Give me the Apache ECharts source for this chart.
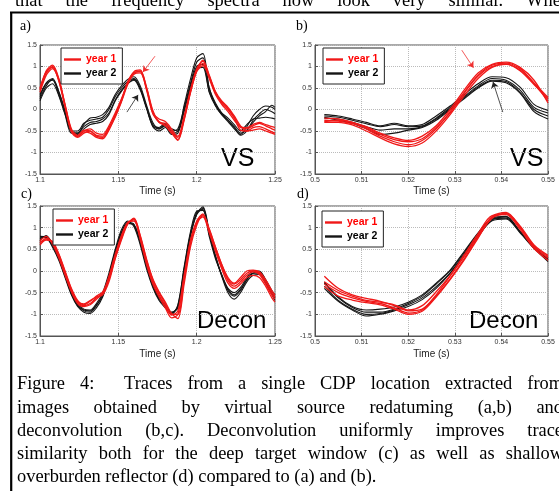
<!DOCTYPE html>
<html>
<head>
<meta charset="utf-8">
<title>Figure 4</title>
<script src="https://cdn.jsdelivr.net/npm/echarts@6/dist/echarts.min.js"></script>
<style>
  html, body { margin: 0; padding: 0; background: #fff; }
  #chart { width: 559px; height: 491px; }
</style>
</head>
<body>
<div id="chart"></div>
<script>
// sample times (s)
const timeDeep = [1.100, 1.104, 1.108, 1.112, 1.116, 1.120, 1.124, 1.128, 1.132, 1.136,
  1.140, 1.144, 1.148, 1.152, 1.156, 1.160, 1.164, 1.168, 1.172, 1.176,
  1.180, 1.184, 1.188, 1.192, 1.196, 1.200, 1.204, 1.208, 1.212, 1.216,
  1.220, 1.224, 1.228, 1.232, 1.236, 1.240, 1.244, 1.248, 1.250];
const timeShallow = [0.502, 0.505, 0.508, 0.511, 0.514, 0.517, 0.520, 0.523, 0.526,
  0.529, 0.532, 0.535, 0.538, 0.541, 0.544, 0.547, 0.550];

// a) VS, deep window
const vsDeepYear1 = [
  [0.48, 0.85, 1.00, 0.70, 0.12, -0.45, -0.60, -0.48, -0.50, -0.60, -0.62, -0.42, -0.12, 0.22, 0.65, 0.86, 0.88, 0.45, -0.10, -0.28, -0.36, -0.55, -0.62, -0.15, 0.45, 0.92, 1.07, 0.72, 0.35, 0.12, -0.05, -0.25, -0.42, -0.45, -0.38, -0.32, -0.38, -0.45, -0.48],
  [0.45, 0.90, 1.03, 0.72, 0.10, -0.48, -0.63, -0.52, -0.55, -0.65, -0.68, -0.48, -0.15, 0.20, 0.62, 0.88, 0.92, 0.50, -0.05, -0.30, -0.32, -0.50, -0.70, -0.20, 0.42, 0.95, 1.12, 0.78, 0.40, 0.15, 0.00, -0.20, -0.48, -0.50, -0.42, -0.40, -0.45, -0.52, -0.55],
  [0.40, 0.80, 0.95, 0.68, 0.08, -0.50, -0.62, -0.50, -0.45, -0.55, -0.58, -0.38, -0.08, 0.25, 0.60, 0.82, 0.85, 0.48, -0.08, -0.22, -0.28, -0.45, -0.65, -0.22, 0.40, 0.88, 1.02, 0.75, 0.38, 0.18, 0.02, -0.18, -0.40, -0.42, -0.35, -0.30, -0.35, -0.40, -0.42],
  [0.50, 0.88, 0.98, 0.66, 0.05, -0.52, -0.65, -0.55, -0.50, -0.62, -0.65, -0.45, -0.18, 0.18, 0.58, 0.84, 0.90, 0.52, -0.02, -0.30, -0.38, -0.55, -0.72, -0.25, 0.38, 0.90, 1.15, 0.80, 0.42, 0.20, 0.05, -0.15, -0.38, -0.50, -0.48, -0.45, -0.50, -0.55, -0.58]
];
const vsDeepYear2 = [
  [0.25, 0.55, 0.70, 0.40, -0.05, -0.50, -0.50, -0.32, -0.25, -0.22, -0.18, 0.00, 0.30, 0.50, 0.65, 0.72, 0.50, 0.05, -0.35, -0.42, -0.32, -0.50, -0.45, 0.05, 0.60, 1.10, 1.20, 0.50, 0.10, -0.12, -0.28, -0.45, -0.58, -0.40, -0.15, 0.00, 0.08, 0.05, 0.00],
  [0.30, 0.60, 0.68, 0.35, -0.10, -0.52, -0.55, -0.40, -0.30, -0.28, -0.22, -0.08, 0.22, 0.45, 0.60, 0.68, 0.45, 0.02, -0.38, -0.45, -0.38, -0.55, -0.50, 0.00, 0.55, 1.00, 1.05, 0.42, 0.12, -0.10, -0.25, -0.42, -0.60, -0.50, -0.25, -0.10, 0.00, -0.05, -0.10],
  [0.20, 0.50, 0.60, 0.32, -0.12, -0.55, -0.55, -0.35, -0.20, -0.18, -0.12, 0.05, 0.35, 0.55, 0.70, 0.76, 0.55, 0.10, -0.30, -0.45, -0.35, -0.45, -0.50, 0.10, 0.70, 1.20, 1.30, 0.50, 0.15, -0.08, -0.20, -0.35, -0.50, -0.35, -0.22, -0.20, -0.18, -0.20, -0.22],
  [0.35, 0.62, 0.72, 0.42, -0.02, -0.48, -0.58, -0.45, -0.35, -0.32, -0.28, -0.12, 0.20, 0.42, 0.60, 0.70, 0.48, 0.05, -0.40, -0.50, -0.42, -0.58, -0.55, -0.05, 0.50, 0.95, 0.98, 0.40, 0.08, -0.12, -0.25, -0.40, -0.55, -0.48, -0.30, -0.15, -0.05, 0.10, 0.05]
];

// b) VS, shallow reflector
const vsShallowYear1 = [
  [-0.25, -0.27, -0.33, -0.42, -0.58, -0.70, -0.75, -0.68, -0.42, -0.08, 0.38, 0.78, 1.00, 1.06, 0.90, 0.58, 0.25],
  [-0.20, -0.22, -0.30, -0.45, -0.62, -0.75, -0.82, -0.72, -0.45, -0.05, 0.40, 0.80, 1.03, 1.08, 0.95, 0.62, 0.28],
  [-0.30, -0.30, -0.36, -0.50, -0.66, -0.80, -0.86, -0.78, -0.50, -0.12, 0.32, 0.72, 0.98, 1.05, 0.92, 0.60, 0.20],
  [-0.28, -0.25, -0.30, -0.40, -0.55, -0.66, -0.72, -0.62, -0.38, 0.00, 0.45, 0.85, 1.05, 1.10, 0.98, 0.68, 0.15]
];
const vsShallowYear2 = [
  [-0.15, -0.18, -0.25, -0.33, -0.40, -0.35, -0.40, -0.38, -0.20, 0.05, 0.30, 0.55, 0.72, 0.68, 0.45, 0.05, -0.08],
  [-0.20, -0.22, -0.30, -0.40, -0.48, -0.45, -0.45, -0.40, -0.22, 0.02, 0.28, 0.52, 0.68, 0.65, 0.40, 0.00, -0.15],
  [-0.18, -0.25, -0.32, -0.45, -0.58, -0.55, -0.48, -0.42, -0.25, 0.00, 0.25, 0.50, 0.66, 0.62, 0.38, -0.05, -0.22],
  [-0.12, -0.15, -0.22, -0.30, -0.38, -0.32, -0.38, -0.35, -0.15, 0.08, 0.35, 0.60, 0.76, 0.74, 0.52, 0.12, -0.02]
];

// c) Decon, deep window
const deconDeepYear1 = [
  [0.65, 0.75, 0.65, 0.35, -0.05, -0.45, -0.72, -0.80, -0.75, -0.62, -0.50, -0.15, 0.35, 0.80, 1.12, 1.15, 0.75, 0.20, -0.25, -0.55, -0.80, -1.02, -0.92, -0.10, 0.70, 1.15, 1.32, 0.92, 0.50, 0.10, -0.22, -0.35, -0.25, -0.10, -0.02, -0.08, -0.30, -0.55, -0.65],
  [0.60, 0.72, 0.68, 0.40, 0.00, -0.40, -0.68, -0.78, -0.70, -0.58, -0.48, -0.20, 0.30, 0.75, 1.10, 1.20, 0.80, 0.25, -0.20, -0.50, -0.75, -1.00, -1.00, -0.20, 0.62, 1.10, 1.28, 0.95, 0.55, 0.15, -0.18, -0.30, -0.20, -0.05, 0.00, -0.05, -0.25, -0.50, -0.60],
  [0.70, 0.80, 0.62, 0.30, -0.10, -0.48, -0.75, -0.82, -0.78, -0.65, -0.52, -0.12, 0.38, 0.82, 1.12, 1.18, 0.72, 0.15, -0.30, -0.60, -0.85, -1.08, -1.00, -0.15, 0.68, 1.12, 1.25, 0.88, 0.45, 0.05, -0.28, -0.40, -0.30, -0.15, -0.10, -0.15, -0.35, -0.62, -0.72],
  [0.65, 0.72, 0.66, 0.38, -0.02, -0.42, -0.70, -0.76, -0.68, -0.60, -0.55, -0.25, 0.28, 0.72, 1.08, 1.22, 0.82, 0.28, -0.18, -0.48, -0.72, -0.98, -1.10, -0.30, 0.55, 1.05, 1.30, 0.98, 0.55, 0.15, -0.15, -0.28, -0.15, 0.00, 0.02, -0.02, -0.20, -0.45, -0.55]
];
const deconDeepYear2 = [
  [0.75, 0.80, 0.60, 0.30, -0.10, -0.50, -0.78, -0.92, -0.95, -0.80, -0.55, -0.10, 0.45, 0.90, 1.12, 1.05, 0.65, 0.10, -0.35, -0.65, -0.82, -0.98, -0.80, 0.05, 0.85, 1.35, 1.42, 0.85, 0.35, -0.10, -0.45, -0.58, -0.45, -0.20, -0.05, -0.05, -0.25, -0.50, -0.60],
  [0.80, 0.78, 0.55, 0.25, -0.15, -0.55, -0.82, -0.95, -0.98, -0.85, -0.60, -0.15, 0.40, 0.88, 1.12, 1.08, 0.68, 0.12, -0.32, -0.62, -0.80, -0.95, -0.85, 0.00, 0.80, 1.30, 1.45, 0.88, 0.32, -0.12, -0.50, -0.65, -0.50, -0.25, -0.10, -0.08, -0.28, -0.55, -0.68],
  [0.70, 0.82, 0.62, 0.32, -0.08, -0.48, -0.75, -0.88, -0.90, -0.75, -0.50, -0.05, 0.50, 0.95, 1.15, 1.02, 0.60, 0.05, -0.38, -0.68, -0.85, -1.00, -0.78, 0.10, 0.90, 1.38, 1.40, 0.80, 0.28, -0.08, -0.40, -0.50, -0.38, -0.15, 0.00, 0.00, -0.20, -0.45, -0.55],
  [0.78, 0.76, 0.58, 0.28, -0.12, -0.52, -0.80, -0.90, -0.92, -0.78, -0.58, -0.12, 0.42, 0.86, 1.10, 1.06, 0.70, 0.15, -0.30, -0.60, -0.78, -0.96, -0.84, 0.02, 0.82, 1.32, 1.48, 0.92, 0.35, -0.10, -0.42, -0.55, -0.42, -0.20, -0.05, -0.02, -0.22, -0.50, -0.62]
];

// d) Decon, shallow reflector
const deconShallowYear1 = [
  [-0.12, -0.40, -0.55, -0.63, -0.70, -0.80, -0.92, -0.88, -0.58, -0.18, 0.28, 0.78, 1.22, 1.32, 1.00, 0.55, 0.30],
  [-0.30, -0.50, -0.62, -0.70, -0.75, -0.85, -0.97, -0.90, -0.55, -0.12, 0.33, 0.82, 1.26, 1.35, 1.02, 0.58, 0.33],
  [-0.36, -0.58, -0.67, -0.73, -0.78, -0.88, -1.00, -0.93, -0.60, -0.20, 0.25, 0.76, 1.24, 1.33, 1.04, 0.60, 0.36],
  [-0.25, -0.45, -0.58, -0.68, -0.72, -0.78, -0.90, -0.80, -0.48, -0.10, 0.37, 0.86, 1.28, 1.30, 0.96, 0.52, 0.25]
];
const deconShallowYear2 = [
  [-0.28, -0.62, -0.84, -0.95, -0.95, -0.88, -0.75, -0.58, -0.30, 0.00, 0.42, 0.85, 1.20, 1.22, 0.90, 0.55, 0.28],
  [-0.35, -0.68, -0.88, -1.00, -0.98, -0.90, -0.78, -0.62, -0.36, -0.05, 0.38, 0.82, 1.16, 1.20, 0.88, 0.52, 0.22],
  [-0.40, -0.70, -0.90, -1.04, -1.00, -0.92, -0.82, -0.66, -0.40, -0.05, 0.37, 0.80, 1.18, 1.25, 0.92, 0.56, 0.26],
  [-0.25, -0.60, -0.82, -0.90, -0.88, -0.83, -0.72, -0.55, -0.28, 0.02, 0.45, 0.88, 1.22, 1.26, 0.90, 0.53, 0.30]
];

// arrows pointing at the peaks in a) and b), [time, amplitude]
const arrowsVsDeep = [
  {from: [1.1734, 1.24], to: [1.1657, 0.87], color: '#f03030'},
  {from: [1.1555, -0.06], to: [1.1626, 0.34], color: '#222'}
];
const arrowsVsShallow = [
  {from: [0.5315, 1.38], to: [0.5340, 0.97], color: '#f03030'},
  {from: [0.5403, -0.06], to: [0.5382, 0.64], color: '#222'}
];

const yTicks = {min: -1.5, max: 1.5, interval: 0.5};
const deepTicks = {min: 1.1, max: 1.25, interval: 0.05};
const shallowTicks = {min: 0.5, max: 0.55, interval: 0.01};

const captionLines = [
  'Figure 4:  Traces from a single CDP location extracted from',
  'images obtained by virtual source redatuming (a,b) and',
  'deconvolution (b,c). Deconvolution uniformly improves trace',
  'similarity both for the deep target window (c) as well as shallow',
  'overburden reflector (d) compared to (a) and (b).'
];
const topLine = 'that the frequency spectra now look very similar. When';

const RED = '#f01818';
const BLACK = '#151515';
const SANS = '"Liberation Sans", Arial, sans-serif';
const SERIF = '"Liberation Serif", "Times New Roman", serif';

const chart = echarts.init(document.getElementById('chart'));

const grids = [
  {left: 40, top: 45, width: 235, height: 129},
  {left: 315, top: 45, width: 233, height: 129},
  {left: 40, top: 206, width: 235, height: 130},
  {left: 315, top: 206, width: 233, height: 130}
].map(g => Object.assign(g, {show: true, borderColor: '#555', borderWidth: 1}));

function xAxisFor(idx, ticks) {
  return Object.assign({
    type: 'value', gridIndex: idx,
    name: 'Time (s)', nameLocation: 'middle', nameGap: idx < 2 ? 12 : 13,
    nameTextStyle: {fontFamily: SANS, fontSize: 10, color: '#222'},
    axisLine: {show: true, onZero: false, lineStyle: {color: '#555'}},
    axisTick: {show: true, inside: true, length: 3, lineStyle: {color: '#555'}},
    axisLabel: {fontFamily: SANS, fontSize: 7, color: '#333', margin: 3, showMinLabel: true, showMaxLabel: true},
    splitLine: {show: true, lineStyle: {color: '#bbb', type: 'dotted'}}
  }, ticks);
}
function yAxisFor(idx) {
  return Object.assign({
    type: 'value', gridIndex: idx,
    axisLine: {show: true, onZero: false, lineStyle: {color: '#555'}},
    axisTick: {show: true, inside: true, length: 3, lineStyle: {color: '#555'}},
    axisLabel: {fontFamily: SANS, fontSize: 7, color: '#333', margin: 3},
    splitLine: {show: true, lineStyle: {color: '#bbb', type: 'dotted'}}
  }, yTicks);
}

function trace(times, vals, name, color, width, idx) {
  return {
    type: 'line', name: name, xAxisIndex: idx, yAxisIndex: idx,
    data: times.map((t, i) => [t, vals[i]]),
    symbol: 'none', showSymbol: false, smooth: 0.3, silent: true,
    lineStyle: {color: color, width: width}, itemStyle: {color: color},
    z: name === 'year 1' ? 3 : 2
  };
}

function arrowLayer(arrows, idx) {
  return {
    type: 'line', name: 'arrows', xAxisIndex: idx, yAxisIndex: idx,
    data: [], symbol: 'none', silent: true,
    markLine: {
      silent: true, animation: false, symbol: ['none', 'arrow'], symbolSize: 6,
      label: {show: false},
      data: arrows.map(a => [
        {coord: a.from, lineStyle: {color: a.color, width: 0.8, type: 'solid'}, itemStyle: {color: a.color}},
        {coord: a.to}
      ])
    }
  };
}

const panels = [
  [timeDeep, vsDeepYear1, vsDeepYear2],
  [timeShallow, vsShallowYear1, vsShallowYear2],
  [timeDeep, deconDeepYear1, deconDeepYear2],
  [timeShallow, deconShallowYear1, deconShallowYear2]
];

const series = [];
panels.forEach(([times, y1, y2], idx) => {
  y2.forEach(v => series.push(trace(times, v, 'year 2', BLACK, 1.1, idx)));
  y1.forEach(v => series.push(trace(times, v, 'year 1', RED, 1.3, idx)));
});
series.push(arrowLayer(arrowsVsDeep, 0));
series.push(arrowLayer(arrowsVsShallow, 1));

const legendSpots = [[61, 48], [323, 48], [53, 209], [322, 211]];
const legends = legendSpots.map(([l, t]) => ({
  left: l, top: t, orient: 'vertical', icon: 'rect',
  itemWidth: 17, itemHeight: 2.4, itemGap: 1, padding: [5, 6, 4, 3],
  backgroundColor: '#fff', borderColor: '#222', borderWidth: 1, borderRadius: 0,
  selectedMode: false,
  data: [
    {name: 'year 1', textStyle: {color: '#f00'}},
    {name: 'year 2', textStyle: {color: '#000'}}
  ],
  textStyle: {fontFamily: SANS, fontSize: 10.5, fontWeight: 'bold', lineHeight: 13}
}));

// text laid out word by word so the caption is justified like the page
const measure = document.createElement('canvas').getContext('2d');
function textLine(text, left, right, y, font, justify) {
  measure.font = font;
  const words = text.split(' ');
  const widths = words.map(w => measure.measureText(w).width);
  const total = widths.reduce((a, b) => a + b, 0);
  const gap = justify ? (right - left - total) / (words.length - 1) : measure.measureText(' ').width;
  const out = [];
  let x = left;
  words.forEach((w, i) => {
    if (w) {
      out.push({type: 'text', x: x, y: y, silent: true,
        style: {text: w, font: font, fill: '#000', textVerticalAlign: 'middle', verticalAlign: 'middle'}});
    }
    x += widths[i] + gap;
  });
  return out;
}

function label(text, x, y, font) {
  return {type: 'text', x: x, y: y, silent: true,
    style: {text: text, font: font, fill: '#000', textVerticalAlign: 'middle', verticalAlign: 'middle'}};
}

const capFont = '18.4px ' + SERIF;
const graphics = [];
textLine(topLine, 15, 570, 1.5, capFont, true).forEach(g => graphics.push(g));
const capY = [384.5, 407.7, 430.9, 454.1, 477.3];
captionLines.forEach((line, i) => {
  textLine(line, 17, 563, capY[i], capFont, i < captionLines.length - 1).forEach(g => graphics.push(g));
});
graphics.push(
  {type: 'line', silent: true, shape: {x1: 10, y1: 12.5, x2: 559, y2: 12.5}, style: {stroke: '#000', lineWidth: 2}},
  {type: 'line', silent: true, shape: {x1: 11.2, y1: 12, x2: 11.2, y2: 491}, style: {stroke: '#000', lineWidth: 2.2}},
  label('a)', 20, 26, '14px ' + SERIF),
  label('b)', 296, 26, '14px ' + SERIF),
  label('c)', 21, 194, '14px ' + SERIF),
  label('d)', 297, 194, '14px ' + SERIF),
  label('VS', 221, 159.5, '25px ' + SANS),
  label('VS', 510, 159.5, '25px ' + SANS),
  label('Decon', 197, 321.5, '24px ' + SANS),
  label('Decon', 469, 321.5, '24px ' + SANS)
);

chart.setOption({
  backgroundColor: '#fff',
  animation: false,
  grid: grids,
  xAxis: [xAxisFor(0, deepTicks), xAxisFor(1, shallowTicks), xAxisFor(2, deepTicks), xAxisFor(3, shallowTicks)],
  yAxis: [yAxisFor(0), yAxisFor(1), yAxisFor(2), yAxisFor(3)],
  legend: legends,
  series: series,
  graphic: graphics
});
</script>
</body>
</html>
